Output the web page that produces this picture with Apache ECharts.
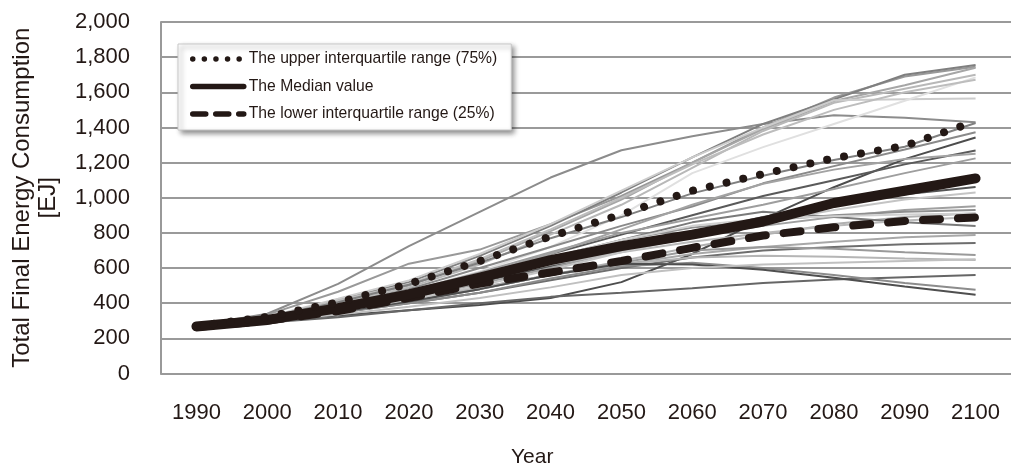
<!DOCTYPE html>
<html>
<head>
<meta charset="utf-8">
<title>Total Final Energy Consumption</title>
<script src="https://cdn.jsdelivr.net/npm/echarts@6/dist/echarts.min.js"></script>
<style>
  html, body { margin: 0; padding: 0; background: #ffffff; }
  #chart { width: 1011px; height: 468px; }
</style>
</head>
<body>
<div id="chart"></div>
<script>
// Decades on the horizontal axis
const years = ['1990', '2000', '2010', '2020', '2030', '2040', '2050', '2060', '2070', '2080', '2090', '2100'];

// Summary statistics across scenarios [EJ]
const upperQuartile = [270, 322, 405, 510, 640, 780, 905, 1040, 1135, 1225, 1295, 1435];
const medianValue   = [268, 305, 372, 450, 545, 645, 725, 790, 865, 970, 1040, 1110];
const lowerQuartile = [265, 300, 355, 430, 512, 575, 640, 715, 785, 832, 868, 888];

// Individual scenario pathways [EJ]
const s01 = [272, 340, 510, 725, 920, 1115, 1270, 1350, 1420, 1470, 1455, 1430];
const s02 = [270, 335, 465, 625, 705, 850, 1010, 1200, 1400, 1570, 1690, 1745];
const s03 = [268, 320, 420, 520, 670, 840, 1030, 1230, 1420, 1560, 1700, 1755];
const s04 = [270, 318, 410, 500, 640, 810, 990, 1200, 1390, 1550, 1640, 1740];
const s05 = [266, 315, 400, 490, 620, 790, 960, 1170, 1380, 1540, 1620, 1700];
const s06 = [270, 322, 425, 530, 680, 850, 1040, 1230, 1400, 1555, 1560, 1565];
const s07 = [265, 310, 385, 470, 580, 720, 900, 1140, 1288, 1420, 1552, 1685];
const s08 = [270, 320, 415, 510, 650, 820, 1000, 1190, 1360, 1500, 1600, 1672];
const s09 = [270, 322, 405, 505, 630, 770, 890, 1025, 1125, 1215, 1290, 1425];
const s10 = [268, 318, 390, 480, 600, 720, 840, 950, 1082, 1180, 1275, 1373];
const s11 = [265, 300, 330, 360, 390, 430, 520, 680, 880, 1060, 1220, 1343];
const s12 = [268, 312, 380, 460, 560, 680, 790, 900, 1010, 1100, 1190, 1269];
const s13 = [270, 315, 385, 470, 575, 690, 800, 880, 960, 1050, 1140, 1224];
const s14 = [268, 310, 370, 440, 520, 610, 700, 800, 890, 960, 1020, 1061];
const s15 = [266, 305, 360, 430, 510, 600, 700, 780, 840, 890, 930, 952];
const s16 = [270, 315, 380, 450, 540, 640, 760, 830, 870, 900, 920, 930];
const s17 = [265, 300, 350, 410, 480, 560, 640, 720, 790, 850, 890, 912];
const s18 = [270, 320, 390, 470, 560, 660, 760, 860, 920, 890, 860, 839];
const s19 = [268, 305, 355, 420, 490, 560, 620, 680, 720, 750, 775, 788];
const s20 = [265, 300, 345, 400, 460, 530, 600, 660, 700, 720, 735, 742];
const s21 = [266, 302, 350, 410, 480, 560, 630, 700, 720, 710, 690, 674];
const s22 = [270, 308, 360, 420, 490, 560, 620, 660, 670, 665, 655, 646];
const s23 = [262, 290, 320, 360, 400, 436, 460, 485, 515, 535, 548, 561];
const s24 = [266, 300, 345, 400, 460, 540, 610, 630, 600, 560, 515, 476];
const s25 = [268, 302, 350, 410, 480, 560, 625, 620, 590, 545, 495, 448];
const s26 = [265, 298, 335, 380, 430, 490, 560, 600, 620, 630, 640, 650];
const s27 = [268, 306, 365, 440, 530, 620, 690, 750, 800, 840, 870, 890];
const s28 = [270, 312, 375, 455, 550, 660, 760, 840, 880, 895, 905, 910];
const s29 = [266, 303, 355, 420, 500, 590, 690, 780, 860, 930, 990, 1030];
const s30 = [268, 310, 378, 460, 560, 680, 820, 960, 1080, 1160, 1220, 1250];

const scenarios = [s01, s02, s03, s04, s05, s06, s07, s08, s09, s10,
                   s11, s12, s13, s14, s15, s16, s17, s18, s19, s20,
                   s21, s22, s23, s24, s25, s26, s27, s28, s29, s30];

// Grey shade for each pathway
const shades = ['#8c8c8c', '#999999', '#7f7f7f', '#a6a6a6', '#b8b8b8', '#cccccc', '#e0e0e0', '#bdbdbd', '#808080', '#8a8a8a',
                '#4d4d4d', '#5a5a5a', '#9e9e9e', '#555555', '#a0a0a0', '#8f8f8f', '#b0b0b0', '#7a7a7a', '#a8a8a8', '#6e6e6e',
                '#9a9a9a', '#b5b5b5', '#666666', '#8c8c8c', '#4f4f4f', '#c0c0c0', '#bababa', '#d0d0d0', '#c4c4c4', '#a3a3a3'];

const ink = '#231815';
const fontFamily = '"Liberation Sans", Arial, Helvetica, sans-serif';

const NAME_UPPER = 'The upper interquartile range (75%)';
const NAME_MEDIAN = 'The Median value';
const NAME_LOWER = 'The lower interquartile range (25%)';

const series = scenarios.map((values, i) => ({
  type: 'line',
  name: 'scenario' + (i + 1),
  data: values,
  symbol: 'none',
  silent: true,
  z: 2,
  lineStyle: { color: shades[i], width: 2 }
}));

series.push({
  type: 'line', name: NAME_LOWER, data: lowerQuartile, symbol: 'none', z: 5,
  itemStyle: { color: ink },
  lineStyle: { color: ink, width: 8, type: [17, 18], cap: 'round', join: 'round' }
});
series.push({
  type: 'line', name: NAME_MEDIAN, data: medianValue, symbol: 'none', z: 6,
  itemStyle: { color: ink },
  lineStyle: { color: ink, width: 10, cap: 'round', join: 'round' }
});
series.push({
  type: 'line', name: NAME_UPPER, data: upperQuartile, symbol: 'none', z: 7,
  itemStyle: { color: ink },
  lineStyle: { color: ink, width: 8, type: [0.001, 17.2], cap: 'round', join: 'round' }
});

const chart = echarts.init(document.getElementById('chart'), null, { renderer: 'canvas' });

// Legend keys show only the line pattern, no marker in the middle
const legendKey = { color: 'rgba(0,0,0,0)', borderWidth: 0, opacity: 0 };

chart.setOption({
  animation: false,
  backgroundColor: '#ffffff',
  textStyle: { fontFamily: fontFamily, color: ink },
  grid: { left: 161, top: 22, right: -12, bottom: 94.5, containLabel: false },
  legend: {
    show: true,
    selectedMode: false,
    orient: 'vertical',
    left: 178,
    top: 44,
    itemWidth: 51,
    itemHeight: 14,
    itemGap: 11.5,
    padding: [7, 14, 8, 12],
    backgroundColor: '#ffffff',
    borderColor: '#c8c8c8',
    borderWidth: 1,
    shadowColor: 'rgba(0,0,0,0.45)',
    shadowBlur: 5,
    shadowOffsetX: 3,
    shadowOffsetY: 3,
    itemStyle: legendKey,
    textStyle: { fontSize: 15.7, color: ink, fontFamily: fontFamily },
    data: [
      { name: NAME_UPPER, itemStyle: legendKey, lineStyle: { width: 5.5, type: [0.001, 11.6], cap: 'round', color: ink } },
      { name: NAME_MEDIAN, itemStyle: legendKey, lineStyle: { width: 5.5, type: 'solid', cap: 'round', color: ink } },
      { name: NAME_LOWER, itemStyle: legendKey, lineStyle: { width: 5.5, type: [13, 10], cap: 'round', color: ink } }
    ]
  },
  xAxis: {
    type: 'category',
    data: years,
    boundaryGap: true,
    axisLine: { show: true, lineStyle: { color: '#999999', width: 2 } },
    axisTick: { show: false },
    axisLabel: { fontSize: 22, color: ink, margin: 28, fontFamily: fontFamily },
    splitLine: { show: false }
  },
  yAxis: {
    type: 'value',
    min: 0,
    max: 2000,
    interval: 200,
    name: 'Total Final Energy Consumption\n[EJ]',
    nameLocation: 'middle',
    nameGap: 100,
    nameTextStyle: { fontSize: 24, color: ink, lineHeight: 26, fontFamily: fontFamily, align: 'center' },
    axisLine: { show: true, lineStyle: { color: '#999999', width: 2 } },
    axisTick: { show: false },
    axisLabel: {
      fontSize: 22, color: ink, margin: 31, fontFamily: fontFamily,
      formatter: v => v.toLocaleString('en-US')
    },
    splitLine: { show: true, lineStyle: { color: '#9a9a9a', width: 2 } }
  },
  graphic: [{
    type: 'text',
    left: 511,
    top: 447,
    style: { text: 'Year', fontSize: 21, fill: ink, fontFamily: fontFamily }
  }],
  series: series
});
</script>
</body>
</html>
